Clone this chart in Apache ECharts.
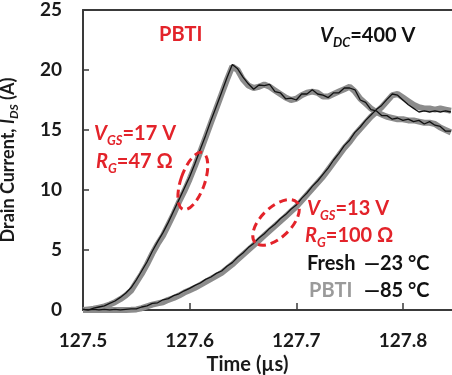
<!DOCTYPE html>
<html><head><meta charset="utf-8">
<script src="https://cdn.jsdelivr.net/npm/echarts@6/dist/echarts.min.js"></script>
<style>html,body{margin:0;padding:0;background:#fff}#c{width:452px;height:375px}</style>
</head><body><div id="c"></div>
<script>
const timeUs = [127.500,127.505,127.510,127.515,127.520,127.525,127.530,127.535,127.540,127.545,127.550,127.555,127.560,127.565,127.570,127.575,127.580,127.585,127.590,127.595,127.600,127.605,127.610,127.615,127.620,127.625,127.630,127.635,127.640,127.645,127.650,127.655,127.660,127.665,127.670,127.675,127.680,127.685,127.690,127.695,127.700,127.705,127.710,127.715,127.720,127.725,127.730,127.735,127.740,127.745,127.750,127.755,127.760,127.765,127.770,127.775,127.780,127.785,127.790,127.795,127.800,127.805,127.810,127.815,127.820,127.825,127.830,127.835,127.840,127.845];
// VGS=17 V, RG=47 ohm
const fastPBTI = [0.00,0.05,0.10,0.20,0.30,0.45,0.65,0.90,1.20,1.60,2.30,3.00,3.80,4.70,5.50,6.20,7.10,8.00,9.00,9.90,10.90,12.00,13.20,14.40,15.60,16.80,18.00,19.20,20.30,20.00,19.20,18.70,18.50,18.60,18.80,18.60,18.30,18.00,17.70,17.50,17.60,17.90,18.10,18.20,18.10,17.80,17.80,18.00,18.20,18.40,18.60,18.20,17.60,17.20,16.80,16.50,16.30,16.10,16.00,15.90,15.90,15.80,15.80,15.70,15.60,15.60,15.50,15.20,15.00,14.80];
const fastFresh = [0.05,0.00,0.15,0.25,0.35,0.55,0.75,1.05,1.40,1.85,2.50,3.25,4.00,4.90,5.70,6.45,7.30,8.25,9.20,10.15,11.10,12.20,13.40,14.55,15.80,16.95,18.15,19.35,20.45,20.10,19.40,18.85,18.40,18.75,18.70,18.80,18.20,18.10,17.60,17.65,17.50,18.00,18.00,18.35,18.00,17.90,17.70,18.10,18.10,18.50,18.50,18.35,17.50,17.30,16.70,16.60,16.20,16.20,15.90,16.00,15.80,15.90,15.70,15.80,15.50,15.70,15.40,15.30,14.90,14.90];
// VGS=13 V, RG=100 ohm
const slowPBTI = [0,0,0,0,0,0,0,0,0,0.02,0.05,0.15,0.30,0.45,0.55,0.65,0.85,1.00,1.20,1.45,1.65,1.85,2.10,2.35,2.60,2.85,3.10,3.45,3.80,4.20,4.60,5.00,5.40,5.80,6.20,6.60,7.00,7.40,7.80,8.20,8.60,9.10,9.60,10.10,10.60,11.10,11.70,12.30,12.90,13.50,14.00,14.60,15.10,15.60,16.10,16.50,16.90,17.40,17.90,18.00,17.70,17.40,17.10,16.90,16.80,16.80,16.70,16.80,16.70,16.60];
const slowFresh = [0.05,0.00,0.05,0.00,0.05,0.00,0.05,0.00,0.05,0.10,0.10,0.25,0.35,0.55,0.60,0.85,0.95,1.20,1.35,1.60,1.80,2.05,2.25,2.55,2.75,3.05,3.25,3.65,3.95,4.40,4.75,5.20,5.55,6.00,6.35,6.80,7.15,7.60,7.95,8.40,8.75,9.30,9.75,10.30,10.75,11.30,11.85,12.50,13.05,13.70,14.15,14.80,15.25,15.80,16.25,16.70,17.05,17.55,18.00,17.90,17.50,17.10,16.80,16.50,16.60,16.50,16.60,16.50,16.60,16.50];
const xTicks = [127.5, 127.6, 127.7, 127.8];

const RED = '#e3232a', GRAY = '#8c8c8c', FONT = 'Lato', INK = '#1a1a1a';
const pair = (ys) => timeUs.map((t, i) => [t, ys[i]]);
const chart = echarts.init(document.getElementById('c'), null, {renderer: 'canvas'});
const axisLine = {lineStyle: {color: '#3a3a3a', width: 2}};
const richFor = (col, key, fs, ss) => ({
  m: {fontFamily: FONT, fontWeight: 'bold', fontSize: fs, [key]: col, lineHeight: fs + 6},
  i: {fontFamily: FONT, fontWeight: 'bold', fontStyle: 'italic', fontSize: fs, [key]: col, lineHeight: fs + 6},
  s: {fontFamily: FONT, fontWeight: 'bold', fontStyle: 'italic', fontSize: ss, [key]: col, lineHeight: ss + 2, verticalAlign: 'bottom'}
});
chart.setOption({
  animation: false,
  grid: {left: 83, right: 0, top: 10, bottom: 65, containLabel: false, outerBoundsMode: 'none'},
  xAxis: [{
    type: 'value', min: 127.5, max: 127.846, interval: 0.1,
    axisLine: axisLine, splitLine: {show: false},
    axisTick: {inside: true, length: 7, lineStyle: {color: '#3a3a3a', width: 1.5}, customValues: xTicks},
    axisLabel: {customValues: xTicks, margin: 21, fontFamily: FONT, fontWeight: 'bold', fontSize: 19, color: INK,
      formatter: v => v.toFixed(1)},
    name: 'Time (µs)', nameLocation: 'middle', nameGap: 44,
    nameTextStyle: {fontFamily: FONT, fontWeight: 'bold', fontSize: 20, color: INK, padding: [0, 40, 0, 0]}
  }, {
    type: 'value', position: 'top', min: 127.5, max: 127.846,
    axisLine: axisLine, axisTick: {show: false}, axisLabel: {show: false}, splitLine: {show: false}
  }],
  yAxis: {
    type: 'value', min: 0, max: 25, interval: 5,
    axisLine: axisLine, splitLine: {show: false},
    axisTick: {inside: true, length: 6, lineStyle: {color: '#3a3a3a', width: 1.5}},
    axisLabel: {margin: 21, fontFamily: FONT, fontWeight: 'bold', fontSize: 19, color: INK},
    name: '{m|Drain Current, }{i|I}{s|DS}{m| (A)}', nameLocation: 'middle', nameGap: 63, nameRotate: 90,
    nameTextStyle: {rich: richFor(INK, 'color', 18, 12)}
  },
  series: [
    {name: 'PBTI fast', type: 'line', data: pair(fastPBTI), showSymbol: false, lineStyle: {color: GRAY, width: 6}, z: 2},
    {name: 'PBTI slow', type: 'line', data: pair(slowPBTI), showSymbol: false, lineStyle: {color: GRAY, width: 6}, z: 2},
    {name: 'Fresh fast', type: 'line', data: pair(fastFresh), showSymbol: false, lineStyle: {color: '#111', width: 1.3}, z: 3},
    {name: 'Fresh slow', type: 'line', data: pair(slowFresh), showSymbol: false, lineStyle: {color: '#111', width: 1.3}, z: 3}
  ]
});

const p1 = chart.convertToPixel({gridIndex: 0}, [127.603, 10.75]);
const p2 = chart.convertToPixel({gridIndex: 0}, [127.681, 7.3]);
const txt = (x, y, text, col) => ({type: 'text', z: 10, style: {x, y, text, rich: richFor(col, 'fill', 20, 13), textVerticalAlign: 'middle'}});
const plain = (x, y, text, col) => ({type: 'text', z: 10, style: {x, y, text, fill: col, font: 'bold 20px ' + FONT, textVerticalAlign: 'middle'}});
chart.setOption({
  graphic: [
    {type: 'ellipse', z: 9, x: p1[0], y: p1[1], rotation: -0.33, shape: {cx: 0, cy: 0, rx: 12, ry: 30},
      style: {fill: 'none', stroke: RED, lineWidth: 3, lineDash: [8, 5]}},
    {type: 'ellipse', z: 9, x: p2[0], y: p2[1], rotation: 0.77, shape: {cx: 0, cy: 0, rx: 29, ry: 15},
      style: {fill: 'none', stroke: RED, lineWidth: 3, lineDash: [8, 5]}},
    plain(159, 35, 'PBTI', RED),
    txt(320, 36, '{i|V}{s|DC}{m|=400 V}', '#111'),
    txt(94, 134, '{i|V}{s|GS}{m|=17 V}', RED),
    txt(96, 162, '{i|R}{s|G}{m|=47 Ω}', RED),
    txt(307, 209, '{i|V}{s|GS}{m|=13 V}', RED),
    txt(305, 236, '{i|R}{s|G}{m|=100 Ω}', RED),
    plain(307, 264, 'Fresh', '#111'),
    plain(364, 264, '—23 °C', '#111'),
    plain(309, 291, 'PBTI', '#9a9a9a'),
    plain(364, 291, '—85 °C', '#111')
  ]
});
</script></body></html>
